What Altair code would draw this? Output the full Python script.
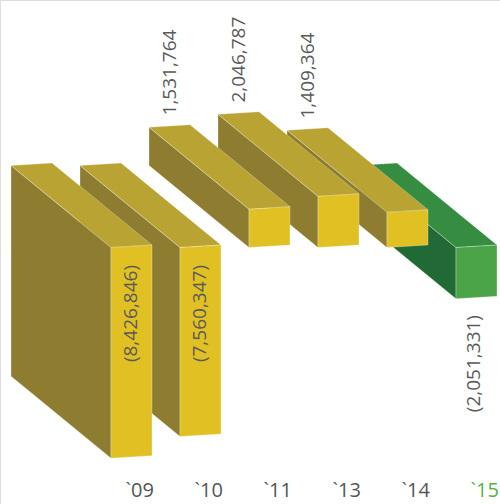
import altair as alt
import pandas as pd

# ---- data ----
years = ["`09", "`10", "`11", "`13", "`14", "`15"]
values = [-8426846, -7560347, 1531764, 2046787, 1409364, -2051331]
highlight = [False, False, False, False, False, True]

# ---- styling / geometry constants ----
BAR_W = 0.594          # bar width in slot units
DEPTH_X = -1.449       # depth direction, x (slot units)
DEPTH_Y = 3.28         # depth direction, y (millions)
SLANT = 0.1            # slight tilt of the horizontal edges (millions)
YELLOW = {"front": "#E1C024", "side": "#8E7D30", "top": "#B9A332"}
GREEN = {"front": "#4BA548", "side": "#216A35", "top": "#368D42"}


def polygon_rows(verts, bar, face, col):
    xs = sorted(set(round(v[0], 6) for v in verts))
    edges = list(zip(verts, verts[1:] + verts[:1]))
    rows = []
    for x in xs:
        ys = []
        for (px, py), (qx, qy) in edges:
            if abs(px - qx) < 1e-9:
                if abs(px - x) < 1e-6:
                    ys += [py, qy]
            elif min(px, qx) - 1e-6 <= x <= max(px, qx) + 1e-6:
                t = (x - px) / (qx - px)
                ys.append(py + t * (qy - py))
        rows.append({"bar": bar, "face": f"{bar}-{face}", "col": col, "px": x,
                     "lo": min(ys), "hi": max(ys)})
    return rows


rows = []
labels = []
ticks = []
for i, (yr, v, hl) in enumerate(zip(years, values, highlight)):
    m = v / 1e6
    top, bot = max(0.0, m), min(0.0, m)
    x0 = float(i)
    pal = GREEN if hl else YELLOW
    front = [(x0, bot), (x0 + BAR_W, bot + SLANT), (x0 + BAR_W, top + SLANT), (x0, top)]
    side = [(x0, bot), (x0, top), (x0 + DEPTH_X, top + DEPTH_Y), (x0 + DEPTH_X, bot + DEPTH_Y)]
    topf = [(x0, top), (x0 + BAR_W, top + SLANT),
            (x0 + BAR_W + DEPTH_X, top + SLANT + DEPTH_Y), (x0 + DEPTH_X, top + DEPTH_Y)]
    rows += polygon_rows(side, i, "side", pal["side"])
    rows += polygon_rows(topf, i, "top", pal["top"])
    rows += polygon_rows(front, i, "front", pal["front"])

    if v >= 0:
        txt = f"{v:,}"
        labels.append({"x": x0 + DEPTH_X + BAR_W / 2, "y": top + DEPTH_Y + SLANT / 2 + 0.42,
                       "text": txt, "align": "left"})
    else:
        txt = f"({-v:,})"
        if abs(m) > 4:
            labels.append({"x": x0 + BAR_W / 2, "y": top + SLANT / 2 - 0.75,
                           "text": txt, "align": "right"})
        else:
            labels.append({"x": x0 + BAR_W / 2 - 0.03, "y": bot + SLANT / 2 - 0.7,
                           "text": txt, "align": "right"})
    ticks.append({"x": x0 + BAR_W / 2 + 0.12, "y": -9.75, "text": yr,
                  "color": "#52B447" if hl else "#555555"})

faces = pd.DataFrame(rows)
lab = pd.DataFrame(labels)
tk = pd.DataFrame(ticks)

xs = alt.Scale(domain=[-1.6087, 5.6377], nice=False, zero=False)
ys = alt.Scale(domain=[-10.26, 9.9], nice=False, zero=False)

layers = []
for i in reversed(range(len(years))):
    layers.append(
        alt.Chart(faces[faces["bar"] == i])
        .mark_area(stroke="#ffffff", strokeOpacity=0.35, strokeWidth=0.8, interpolate="linear")
        .encode(x=alt.X("px:Q", scale=xs, axis=None),
                y=alt.Y("lo:Q", scale=ys, axis=None, stack=None),
                y2="hi:Q",
                detail="face:N",
                fill=alt.Fill("col:N", scale=None))
    )

font = "Open Sans"
lab_left = alt.Chart(lab[lab["align"] == "left"]).mark_text(
    angle=270, align="left", baseline="middle", font=font, fontSize=19, color="#5A5A5A"
).encode(x=alt.X("x:Q", scale=xs), y=alt.Y("y:Q", scale=ys), text="text:N")
lab_right = alt.Chart(lab[lab["align"] == "right"]).mark_text(
    angle=270, align="right", baseline="middle", font=font, fontSize=19, color="#5A5A5A"
).encode(x=alt.X("x:Q", scale=xs), y=alt.Y("y:Q", scale=ys), text="text:N")
tick_text = alt.Chart(tk).mark_text(
    align="center", baseline="middle", font=font, fontSize=20
).encode(x=alt.X("x:Q", scale=xs), y=alt.Y("y:Q", scale=ys), text="text:N",
         color=alt.Color("color:N", scale=None))

chart = alt.layer(*layers, lab_left, lab_right, tick_text).properties(
    width=500, height=504, padding=0, autosize=alt.AutoSizeParams(type="none")
).configure_view(stroke=None).configure(background="#ffffff")

chart.save("out.html", embed_options={"renderer": "svg", "actions": False})
